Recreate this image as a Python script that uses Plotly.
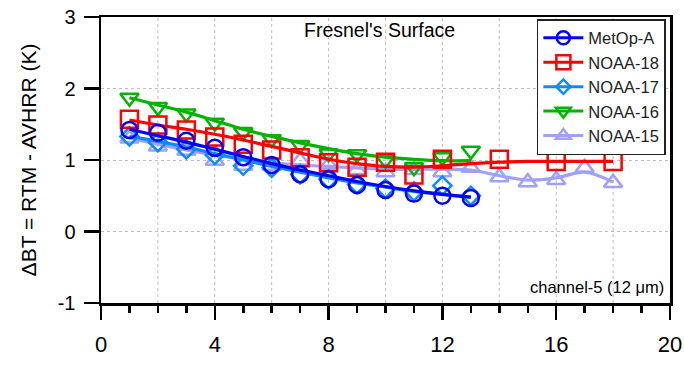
import plotly.graph_objects as go

# ---------------- data ----------------
series_names = ["MetOp-A", "NOAA-18", "NOAA-17", "NOAA-16", "NOAA-15"]

x_metop = [1, 2, 3, 4, 5, 6, 7, 8, 9, 10, 11, 12, 13]
y_metop = [1.42, 1.38, 1.27, 1.17, 1.04, 0.93, 0.80, 0.73, 0.65, 0.58, 0.53, 0.50, 0.47]
curve_metop = [1.43, 1.34, 1.25, 1.15, 1.05, 0.95, 0.86, 0.78, 0.70, 0.63, 0.57, 0.52, 0.48]

x_n18 = [1, 2, 3, 4, 5, 6, 7, 8, 9, 10, 11, 12, 14, 16, 18]
y_n18 = [1.57, 1.49, 1.42, 1.32, 1.22, 1.14, 1.03, 0.96, 0.90, 0.97, 0.79, 1.01, 1.01, 0.98, 0.98]
xc_n18 = [1, 2, 3, 4, 5, 6, 7, 8, 9, 10, 11, 12, 13, 14, 15, 16, 17, 18]
curve_n18 = [1.56, 1.49, 1.43, 1.36, 1.28, 1.19, 1.10, 1.01, 0.95, 0.91, 0.90, 0.92, 0.95, 0.97, 0.98, 0.98, 0.98, 0.98]

x_n17 = [1, 2, 3, 4, 5, 6, 7, 8, 9, 10, 11, 12, 13]
y_n17 = [1.33, 1.25, 1.15, 1.07, 0.92, 0.89, 0.80, 0.73, 0.66, 0.60, 0.56, 0.64, 0.50]
curve_n17 = [1.33, 1.26, 1.18, 1.09, 1.00, 0.91, 0.83, 0.75, 0.68, 0.62, 0.56, 0.52, 0.48]

x_n16 = [1, 2, 3, 4, 5, 6, 7, 8, 9, 10, 11, 12, 13]
y_n16 = [1.87, 1.74, 1.65, 1.52, 1.39, 1.29, 1.21, 1.09, 1.08, 1.00, 0.90, 1.04, 1.13]
curve_n16 = [1.87, 1.77, 1.67, 1.55, 1.43, 1.33, 1.24, 1.16, 1.09, 1.04, 1.01, 0.99, 0.99]

x_n15 = [1, 2, 3, 4, 5, 6, 7, 8, 9, 10, 11, 12, 13, 14, 15, 16, 17, 18]
y_n15 = [1.30, 1.19, 1.13, 0.99, 0.92, 0.92, 0.99, 0.93, 0.86, 0.83, 0.86, 0.83, 0.89, 0.76, 0.69, 0.72, 0.89, 0.68]
curve_n15 = [1.31, 1.22, 1.14, 1.07, 1.01, 0.96, 0.93, 0.91, 0.89, 0.87, 0.87, 0.87, 0.86, 0.78, 0.72, 0.75, 0.83, 0.69]

x_ticks = [0, 4, 8, 12, 16, 20]
y_ticks = [-1, 0, 1, 2, 3]
x_grid = [2, 4, 6, 8, 10, 12, 14, 16, 18]

colors = {"MetOp-A": "#0000FF", "NOAA-18": "#FF0000", "NOAA-17": "#0A8CFF",
          "NOAA-16": "#00B400", "NOAA-15": "#A0A0FF"}
symbols = {"MetOp-A": "circle-open", "NOAA-18": "square-open", "NOAA-17": "diamond-open",
           "NOAA-16": "triangle-down-open", "NOAA-15": "triangle-up-open"}
sizes = {"MetOp-A": 16, "NOAA-18": 17, "NOAA-17": 14, "NOAA-16": 16, "NOAA-15": 16}

data = {
    "MetOp-A": (x_metop, y_metop, x_metop, curve_metop),
    "NOAA-18": (x_n18, y_n18, xc_n18, curve_n18),
    "NOAA-17": (x_n17, y_n17, x_n17, curve_n17),
    "NOAA-16": (x_n16, y_n16, x_n16, curve_n16),
    "NOAA-15": (x_n15, y_n15, x_n15, curve_n15),
}

FONT = "Arial, Liberation Sans, sans-serif"
fig = go.Figure()

# draw back-to-front (NOAA-15 at the back, MetOp-A on top)
for name in reversed(series_names):
    xs, ys, xc, yc = data[name]
    c = colors[name]
    fig.add_trace(go.Scatter(x=xc, y=yc, mode="lines", line=dict(color=c, width=3.2, shape="spline"),
                             showlegend=False, hoverinfo="skip"))
    fig.add_trace(go.Scatter(x=xs, y=ys, mode="markers",
                             marker=dict(symbol=symbols[name], size=sizes[name], color=c,
                                         line=dict(color=c, width=2.5)),
                             showlegend=False))

# legend entries
for name in series_names:
    c = colors[name]
    fig.add_trace(go.Scatter(x=[None], y=[None], mode="lines+markers", name=name,
                             line=dict(color=c, width=3),
                             marker=dict(symbol=symbols[name], size=sizes[name] - 3, color=c,
                                         line=dict(color=c, width=2.5))))

shapes = []
for gx in x_grid:
    shapes.append(dict(type="line", xref="x", yref="paper", x0=gx, x1=gx, y0=0, y1=1,
                       line=dict(color="#BDBDBD", width=1, dash="dot"), layer="below"))
shapes.append(dict(type="line", xref="paper", yref="y", x0=0, x1=1, y0=0, y1=0,
                   line=dict(color="black", width=1.2, dash="dot"), layer="below"))

fig.update_layout(
    width=684, height=367,
    margin=dict(l=101, r=14, t=17, b=64, autoexpand=False),
    paper_bgcolor="white", plot_bgcolor="white",
    font=dict(family=FONT, color="black"),
    shapes=shapes,
    showlegend=True,
    legend=dict(x=0.766, y=0.993, xanchor="left", yanchor="top",
                bgcolor="white", bordercolor="#222222", borderwidth=1.5,
                itemwidth=40,
                font=dict(family=FONT, size=16.5, color="#222222"), tracegroupgap=0),
    annotations=[
        dict(text="Fresnel's Surface", xref="paper", yref="paper", x=0.49, y=0.955,
             xanchor="center", yanchor="middle", showarrow=False,
             font=dict(family=FONT, size=19.5, color="black")),
        dict(text="channel-5 (12 μm)", xref="paper", yref="paper", x=0.993, y=0.056,
             xanchor="right", yanchor="middle", showarrow=False,
             font=dict(family=FONT, size=16.5, color="black")),
    ],
)

fig.update_xaxes(range=[0, 20], tickvals=x_ticks, ticktext=[str(v) for v in x_ticks],
                 ticks="outside", ticklen=14, tickwidth=2.5, tickcolor="black",
                 minor=dict(dtick=1, ticks="outside", ticklen=7, tickwidth=2.5, tickcolor="black",
                            showgrid=False),
                 showline=True, linewidth=2.5, linecolor="black", mirror=True,
                 showgrid=False, zeroline=False, automargin=False, ticklabelstandoff=6,
                 ticklabeloverflow="allow",
                 tickfont=dict(family=FONT, size=22, color="black"))
fig.update_yaxes(range=[-1, 3], tickvals=y_ticks, ticktext=[str(v) for v in y_ticks],
                 ticks="outside", ticklen=15, tickwidth=2.5, tickcolor="black",
                 showline=True, linewidth=2.5, linecolor="black", mirror=True,
                 showgrid=True, gridcolor="#BDBDBD", griddash="dot", gridwidth=1,
                 zeroline=False, automargin=False, ticklabelstandoff=4,
                 ticklabeloverflow="allow",
                 tickfont=dict(family=FONT, size=20, color="black"),
                 title=dict(text="ΔBT = RTM - AVHRR (K)", standoff=16,
                            font=dict(family=FONT, size=21, color="black")))

# remove the default 8px page margin so the figure fills the 684x367 window exactly
fig.write_html("out.html",
               config={"displayModeBar": False, "staticPlot": True},
               post_script="document.body.style.margin='0';document.body.style.overflow='hidden';")
